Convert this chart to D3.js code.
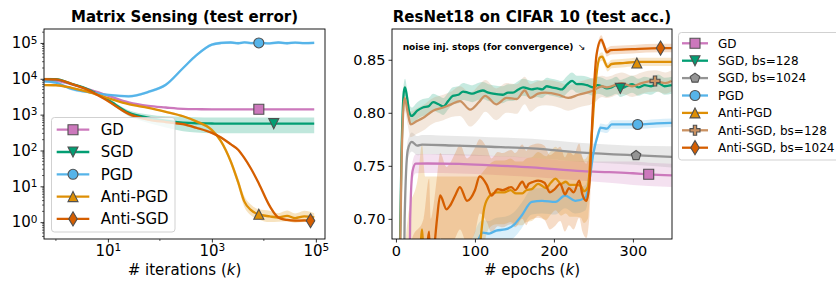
<!DOCTYPE html>
<html>
<head>
<meta charset="utf-8">
<script src="https://cdn.jsdelivr.net/npm/d3@7"></script>
<style>
  body { margin: 0; background: #fff; }
  svg text { font-family: "DejaVu Sans", sans-serif; fill: #000; }
</style>
</head>
<body>
<svg id="visualization" width="836" height="282"></svg>
<script>
// ---- left panel: matrix sensing, test error vs iterations (log-log) ----
var msNames = ["GD", "SGD", "PGD", "Anti-PGD", "Anti-SGD"];
var msIters = [0.6, 1, 2, 4, 10, 25, 60, 130, 280, 500, 1000, 1500, 2300, 3200, 4200, 5600, 8000, 13000, 19000, 28000, 40000, 60000, 93000];
var msGD = [9000, 8800, 7000, 5200, 3400, 2200, 1750, 1580, 1450, 1420, 1410, 1410, 1410, 1410, 1410, 1410, 1410, 1410, 1410, 1410, 1410, 1410, 1410];
var msSGD = [9800, 9700, 7200, 5200, 2600, 1150, 820, 680, 600, 575, 565, 560, 560, 560, 560, 560, 560, 560, 560, 560, 560, 560, 560];
var msPGD = [8500, 7800, 5200, 4300, 3550, 3250, 4300, 6800, 20000, 45000, 90000, 100000, 103000, 98000, 104000, 99000, 102000, 97000, 103000, 98000, 102000, 99000, 101000];
var msAntiPGD = [6700, 6600, 5600, 4400, 2900, 1950, 1550, 1200, 900, 650, 370, 180, 50, 13, 3.8, 2.2, 1.65, 1.45, 1.35, 1.5, 1.3, 1.45, 1.35];
var msAntiSGD = [9800, 9600, 7200, 5000, 2400, 1050, 730, 620, 540, 430, 310, 230, 150, 105, 62, 32, 12, 2.8, 1.35, 1.15, 1.1, 1.12, 1.08];
// band half widths in decades
var msBand = [0.012, null, 0.04, null, 0.035];
var msSgdBandLo = [0.01, 0.01, 0.02, 0.03, 0.05, 0.1, 0.15, 0.19, 0.24, 0.26, 0.27, 0.27, 0.27, 0.27, 0.27, 0.27, 0.27, 0.27, 0.27, 0.27, 0.27, 0.27, 0.27];
var msSgdBandHi = [0.01, 0.01, 0.02, 0.03, 0.04, 0.06, 0.09, 0.12, 0.16, 0.17, 0.17, 0.17, 0.17, 0.17, 0.17, 0.17, 0.17, 0.17, 0.17, 0.17, 0.17, 0.17, 0.17];
var msAntiPgdBand = [0.02, 0.02, 0.02, 0.02, 0.02, 0.02, 0.02, 0.03, 0.03, 0.04, 0.05, 0.06, 0.08, 0.12, 0.15, 0.15, 0.14, 0.16, 0.12, 0.15, 0.13, 0.16, 0.12];
var msMarkIters = [8000, 15500, 8000, 8000, 79000];
var msMarkVals = [1410, 560, 100000, 1.67, 1.1];
var msXTicks = [10, 1000, 100000];
var msYTicks = [1, 10, 100, 1000, 10000, 100000];

// ---- right panel: ResNet18 on CIFAR 10, test accuracy vs epochs ----
// each point: [epoch, accuracy, band half width]
var cfNames = ["GD", "SGD, bs=128", "SGD, bs=1024", "PGD", "Anti-PGD", "Anti-SGD, bs=128", "Anti-SGD, bs=1024"];
var cfGD = [[0,0.40,0.01],[15,0.50,0.01],[18,0.70,0.01],[21,0.745,0.009],[25,0.752,0.009],[40,0.7522,0.009],[80,0.7518,0.009],[120,0.7505,0.009],[172,0.7485,0.009],[236,0.745,0.009],[270,0.744,0.010],[300,0.743,0.011],[320,0.742,0.011],[349,0.741,0.011]];
var cfSGD128 = [[0,0.45,0.01],[4,0.62,0.01],[7,0.76,0.01],[10,0.82,0.008],[11.5,0.824,0.008],[14,0.815,0.008],[17,0.800,0.008],[20,0.797,0.008],[27,0.802,0.008],[34,0.805,0.008],[41,0.806,0.008],[47,0.810,0.008],[54,0.808,0.008],[60,0.806,0.008],[66,0.811,0.008],[72,0.816,0.008],[79,0.817,0.008],[85,0.820,0.008],[91,0.819,0.008],[97,0.818,0.008],[104,0.820,0.008],[110,0.821,0.008],[117,0.819,0.008],[123,0.818,0.008],[135,0.817,0.008],[142,0.819,0.008],[148,0.819,0.008],[155,0.822,0.008],[161,0.824,0.008],[172,0.822,0.008],[179,0.823,0.008],[185,0.822,0.008],[191,0.825,0.008],[197,0.824,0.008],[204,0.823,0.008],[210,0.822,0.008],[217,0.827,0.008],[223,0.830,0.008],[229,0.827,0.008],[235,0.827,0.008],[242,0.826,0.008],[250,0.824,0.008],[255,0.826,0.008],[261,0.825,0.008],[267,0.823,0.008],[273,0.824,0.008],[279,0.826,0.008],[284,0.823,0.008],[292,0.825,0.008],[299,0.827,0.008],[307,0.824,0.008],[315,0.826,0.008],[323,0.825,0.008],[332,0.828,0.008],[340,0.825,0.008],[349,0.826,0.008]];
var cfSGD1024 = [[0,0.40,0.01],[8,0.50,0.01],[11,0.70,0.01],[15,0.765,0.009],[20,0.7725,0.009],[27,0.769,0.009],[33,0.770,0.009],[77,0.769,0.009],[120,0.768,0.009],[172,0.7665,0.009],[236,0.7625,0.009],[300,0.760,0.009],[349,0.7585,0.010]];
var cfPGD = [[0,0.55,0.015],[50,0.60,0.015],[90,0.65,0.015],[104,0.68,0.015],[110,0.687,0.012],[118,0.686,0.012],[127,0.689,0.012],[138,0.690,0.012],[149,0.694,0.012],[159,0.703,0.012],[172,0.716,0.012],[185,0.717,0.012],[202,0.716,0.012],[214,0.722,0.012],[227,0.717,0.012],[240,0.720,0.012],[244,0.732,0.010],[250,0.762,0.006],[256,0.780,0.004],[259,0.786,0.004],[267,0.785,0.004],[273,0.789,0.004],[290,0.789,0.004],[306,0.789,0.004],[330,0.790,0.004],[349,0.7905,0.004]];
var cfAntiPGD = [[0,0.50,0.05],[15,0.58,0.12],[28,0.62,0.12],[33,0.690,0.08],[37,0.62,0.12],[60,0.62,0.12],[90,0.63,0.11],[104,0.66,0.08],[112,0.711,0.035],[119,0.722,0.03],[127,0.725,0.03],[137,0.725,0.03],[145,0.727,0.03],[152,0.724,0.03],[160,0.724,0.03],[165,0.727,0.03],[172,0.728,0.03],[180,0.733,0.03],[190,0.729,0.03],[196,0.734,0.03],[202,0.738,0.03],[209,0.733,0.03],[215,0.735,0.03],[220,0.732,0.03],[228,0.732,0.03],[234,0.731,0.03],[238,0.726,0.03],[243,0.730,0.03],[248,0.780,0.01],[253,0.830,0.005],[258,0.852,0.004],[261,0.853,0.004],[265,0.847,0.004],[268,0.843,0.004],[273,0.846,0.004],[290,0.847,0.004],[305,0.848,0.004],[349,0.848,0.004]];
var cfAntiSGD128 = [[0,0.45,0.01],[4,0.60,0.012],[7,0.75,0.012],[11,0.814,0.012],[15,0.800,0.012],[18.6,0.789,0.012],[26,0.792,0.012],[34,0.795,0.012],[47,0.802,0.012],[60,0.805,0.012],[70,0.808,0.012],[81,0.811,0.014],[94,0.803,0.016],[105,0.810,0.016],[113,0.816,0.015],[127,0.808,0.015],[140,0.814,0.014],[153,0.813,0.014],[163,0.821,0.013],[170,0.814,0.013],[180,0.818,0.012],[189,0.819,0.012],[206,0.817,0.012],[218,0.814,0.012],[231,0.817,0.012],[250,0.821,0.012],[261,0.825,0.010],[267,0.824,0.010],[286,0.828,0.010],[299,0.825,0.010],[311,0.828,0.010],[328,0.830,0.010],[341,0.828,0.010],[349,0.830,0.010]];
var cfAntiSGD1024 = [[0,0.50,0.05],[20,0.58,0.10],[35,0.62,0.08],[42,0.688,0.05],[44,0.64,0.06],[47,0.66,0.05],[52,0.70,0.04],[56,0.722,0.04],[64,0.709,0.04],[68,0.712,0.04],[75,0.722,0.04],[81,0.730,0.04],[90,0.717,0.04],[100,0.727,0.04],[106,0.740,0.035],[115,0.732,0.035],[121,0.722,0.035],[129,0.728,0.035],[135,0.727,0.035],[146,0.730,0.035],[151,0.727,0.035],[160,0.735,0.035],[165,0.729,0.035],[168,0.733,0.035],[174,0.735,0.035],[180,0.736,0.035],[188,0.734,0.035],[195,0.725,0.035],[201,0.728,0.035],[208,0.733,0.035],[214,0.723,0.035],[219,0.729,0.035],[225,0.725,0.035],[232,0.736,0.035],[236,0.723,0.035],[241,0.717,0.035],[245,0.733,0.030],[249,0.800,0.010],[254,0.855,0.005],[260,0.869,0.004],[264,0.862,0.004],[267,0.857,0.004],[272,0.859,0.004],[299,0.860,0.004],[335,0.861,0.004],[349,0.861,0.004]];
var cfMarkEpochs = [320, 284, 304, 306, 305, 328, 335];
var cfMarkVals = [0.742, 0.823, 0.7597, 0.789, 0.847, 0.830, 0.861];
var cfXTicks = [0, 100, 200, 300];
var cfYTicks = [0.70, 0.75, 0.80, 0.85];

var msColors = ["#cc78bc", "#029e73", "#56b4e9", "#de8f05", "#d55e00"],
    msShapes = ["square", "triDown", "circle", "triUp", "diamond"],
    cfColors = ["#cc78bc", "#029e73", "#949494", "#56b4e9", "#de8f05", "#ca9161", "#d55e00"],
    cfShapes = ["square", "triDown", "pentagon", "circle", "triUp", "plus", "diamond"];

var LEFT = {x0: 44, x1: 325, y0: 29, y1: 239},
    RIGHT = {x0: 392, x1: 672, y0: 29, y1: 239},
    LW = 2.3, MS = 10, EDGE = "#505050";

var vis = d3.select("#visualization");
var defs = vis.append("defs");

function addClip(id, b) {
  defs.append("clipPath").attr("id", id).append("rect")
    .attr("x", b.x0).attr("y", b.y0).attr("width", b.x1 - b.x0).attr("height", b.y1 - b.y0);
}
addClip("clipL", LEFT);
addClip("clipR", RIGHT);

// matplotlib-like marker glyphs, ms = marker size in px
function shapePath(type, ms) {
  var h = ms / 2, p = d3.path(), i, a;
  switch (type) {
    case "square": p.rect(-h, -h, ms, ms); break;
    case "circle": p.moveTo(h, 0); p.arc(0, 0, h, 0, 2 * Math.PI); break;
    case "triUp": p.moveTo(0, -h); p.lineTo(h, h); p.lineTo(-h, h); p.closePath(); break;
    case "triDown": p.moveTo(0, h); p.lineTo(h, -h); p.lineTo(-h, -h); p.closePath(); break;
    case "diamond":
      a = ms * 0.707;
      p.moveTo(0, -a); p.lineTo(0.6 * a, 0); p.lineTo(0, a); p.lineTo(-0.6 * a, 0); p.closePath();
      break;
    case "pentagon":
      for (i = 0; i < 5; i++) {
        a = -Math.PI / 2 + i * 2 * Math.PI / 5;
        if (i === 0) p.moveTo(h * Math.cos(a), h * Math.sin(a));
        else p.lineTo(h * Math.cos(a), h * Math.sin(a));
      }
      p.closePath();
      break;
    case "plus":
      var u = ms / 6;
      var pts = [[-1,-3],[1,-3],[1,-1],[3,-1],[3,1],[1,1],[1,3],[-1,3],[-1,1],[-3,1],[-3,-1],[-1,-1]];
      pts.forEach(function(q, j) { if (j === 0) p.moveTo(q[0] * u, q[1] * u); else p.lineTo(q[0] * u, q[1] * u); });
      p.closePath();
      break;
  }
  return p.toString();
}

function marker(g, type, color, x, y, ms) {
  g.append("path")
    .attr("d", shapePath(type, ms))
    .attr("transform", "translate(" + x + "," + y + ")")
    .style("fill", color)
    .style("stroke", EDGE)
    .style("stroke-width", 1.1);
}

function styleAxis(g, size) {
  g.select(".domain").remove();
  g.selectAll(".tick line").style("stroke", "#000").style("stroke-width", 0.8);
  g.selectAll("text").style("font-size", size + "px").style("font-family", "DejaVu Sans").style("fill", "#000");
}

function powLabel(text) {
  text.each(function(d) {
    var t = d3.select(this).text(null);
    t.append("tspan").text("10");
    t.append("tspan").attr("dy", "-0.45em").style("font-size", "10.5px").text(Math.round(Math.log10(d)));
  });
}

// =============== left panel ===============
var msX = d3.scaleLog().domain([0.59, 1.5e5]).range([LEFT.x0, LEFT.x1]),
    msY = d3.scaleLog().domain([0.339, 2.45e5]).range([LEFT.y1, LEFT.y0]);

var msVals = [msGD, msSGD, msPGD, msAntiPGD, msAntiSGD];
var msLo = [
  function() { return msBand[0]; },
  function(j) { return msSgdBandLo[j]; },
  function() { return msBand[2]; },
  function(j) { return msAntiPgdBand[j]; },
  function() { return msBand[4]; }
];
var msHi = [
  function() { return msBand[0]; },
  function(j) { return msSgdBandHi[j]; },
  function() { return msBand[2]; },
  function(j) { return msAntiPgdBand[j]; },
  function() { return msBand[4]; }
];

var plotL = vis.append("g").attr("clip-path", "url(#clipL)");
msVals.forEach(function(vals, i) {
  var area = d3.area().curve(d3.curveMonotoneX)
    .x(function(d, j) { return msX(msIters[j]); })
    .y0(function(d, j) { return msY(d / Math.pow(10, msLo[i](j))); })
    .y1(function(d, j) { return msY(d * Math.pow(10, msHi[i](j))); });
  plotL.append("path").datum(vals).attr("d", area)
    .style("fill", msColors[i]).style("opacity", 0.25).style("stroke", "none");
});
msVals.forEach(function(vals, i) {
  var line = d3.line().curve(d3.curveMonotoneX)
    .x(function(d, j) { return msX(msIters[j]); })
    .y(function(d) { return msY(d); });
  plotL.append("path").datum(vals).attr("d", line)
    .style("fill", "none").style("stroke", msColors[i]).style("stroke-width", LW);
});
msVals.forEach(function(vals, i) {
  marker(plotL, msShapes[i], msColors[i], msX(msMarkIters[i]), msY(msMarkVals[i]), MS);
});

var msXAxis = vis.append("g")
  .attr("transform", "translate(0," + LEFT.y1 + ")")
  .call(d3.axisBottom(msX).tickValues(msXTicks).tickSize(3.5).tickSizeOuter(0));
styleAxis(msXAxis, 15);
msXAxis.selectAll("text").call(powLabel);

var msYAxis = vis.append("g")
  .attr("transform", "translate(" + LEFT.x0 + ",0)")
  .call(d3.axisLeft(msY).tickValues(msYTicks).tickSize(3.5).tickSizeOuter(0));
styleAxis(msYAxis, 15);
msYAxis.selectAll("text").call(powLabel);

// minor ticks
var msYMinor = [];
msYTicks.concat([0.1]).forEach(function(dec) {
  for (var k = 2; k < 10; k++) {
    var v = dec * k;
    if (v > msY.domain()[0] && v < msY.domain()[1]) msYMinor.push(v);
  }
});
vis.append("g").selectAll("line").data(msYMinor).enter().append("line")
  .attr("x1", LEFT.x0 - 2).attr("x2", LEFT.x0)
  .attr("y1", function(d) { return msY(d); }).attr("y2", function(d) { return msY(d); })
  .style("stroke", "#000").style("stroke-width", 0.6);
vis.append("g").selectAll("line").data([1, 100, 10000]).enter().append("line")
  .attr("x1", function(d) { return msX(d); }).attr("x2", function(d) { return msX(d); })
  .attr("y1", LEFT.y1).attr("y2", LEFT.y1 + 2)
  .style("stroke", "#000").style("stroke-width", 0.6);

vis.append("rect")
  .attr("x", LEFT.x0).attr("y", LEFT.y0)
  .attr("width", LEFT.x1 - LEFT.x0).attr("height", LEFT.y1 - LEFT.y0)
  .style("fill", "none").style("stroke", "#000").style("stroke-width", 0.9);

vis.append("text")
  .attr("x", (LEFT.x0 + LEFT.x1) / 2).attr("y", 22)
  .style("text-anchor", "middle").style("font-weight", "bold").style("font-size", "15px")
  .text("Matrix Sensing (test error)");

var msLabel = vis.append("text")
  .attr("x", (LEFT.x0 + LEFT.x1) / 2).attr("y", 275)
  .style("text-anchor", "middle").style("font-size", "15px");
msLabel.append("tspan").text("# iterations (");
msLabel.append("tspan").style("font-style", "italic").text("k");
msLabel.append("tspan").text(")");

// left legend
var legL = vis.append("g");
legL.append("rect")
  .attr("x", 51.5).attr("y", 117.5).attr("width", 123.5).attr("height", 114.5).attr("rx", 3)
  .style("fill", "#fff").style("fill-opacity", 0.8).style("stroke", "#cccccc").style("stroke-width", 0.9);
msNames.forEach(function(name, i) {
  var yy = 129.7 + i * 22.3;
  legL.append("line")
    .attr("x1", 56.7).attr("x2", 89.3).attr("y1", yy).attr("y2", yy)
    .style("stroke", msColors[i]).style("stroke-width", LW);
  marker(legL, msShapes[i], msColors[i], 73, yy, MS);
  legL.append("text")
    .attr("x", 100.7).attr("y", yy).attr("dy", "0.36em")
    .style("font-size", "15px").text(name);
});

// =============== right panel ===============
var cfX = d3.scaleLinear().domain([-5, 349.5]).range([RIGHT.x0, RIGHT.x1]),
    cfY = d3.scaleLinear().domain([0.681, 0.879]).range([RIGHT.y1, RIGHT.y0]);

var cfSeries = [cfGD, cfSGD128, cfSGD1024, cfPGD, cfAntiPGD, cfAntiSGD128, cfAntiSGD1024];

var plotR = vis.append("g").attr("clip-path", "url(#clipR)");
var cfArea = d3.area().curve(d3.curveMonotoneX)
  .x(function(d) { return cfX(d[0]); })
  .y0(function(d) { return cfY(d[1] - d[2]); })
  .y1(function(d) { return cfY(d[1] + d[2]); });
var cfLine = d3.line().curve(d3.curveMonotoneX)
  .x(function(d) { return cfX(d[0]); })
  .y(function(d) { return cfY(d[1]); });

cfSeries.forEach(function(pts, i) {
  plotR.append("path").datum(pts).attr("d", cfArea)
    .style("fill", cfColors[i]).style("opacity", 0.22).style("stroke", "none");
});
cfSeries.forEach(function(pts, i) {
  plotR.append("path").datum(pts).attr("d", cfLine)
    .style("fill", "none").style("stroke", cfColors[i]).style("stroke-width", LW);
});
cfSeries.forEach(function(pts, i) {
  marker(plotR, cfShapes[i], cfColors[i], cfX(cfMarkEpochs[i]), cfY(cfMarkVals[i]), MS);
});

var cfXAxis = vis.append("g")
  .attr("transform", "translate(0," + RIGHT.y1 + ")")
  .call(d3.axisBottom(cfX).tickValues(cfXTicks).tickSize(3.5).tickSizeOuter(0));
styleAxis(cfXAxis, 14.5);

var cfYAxis = vis.append("g")
  .attr("transform", "translate(" + RIGHT.x0 + ",0)")
  .call(d3.axisLeft(cfY).tickValues(cfYTicks).tickSize(3.5).tickSizeOuter(0).tickFormat(d3.format(".2f")));
styleAxis(cfYAxis, 14.5);

vis.append("rect")
  .attr("x", RIGHT.x0).attr("y", RIGHT.y0)
  .attr("width", RIGHT.x1 - RIGHT.x0).attr("height", RIGHT.y1 - RIGHT.y0)
  .style("fill", "none").style("stroke", "#000").style("stroke-width", 0.9);

vis.append("text")
  .attr("x", 532).attr("y", 22)
  .style("text-anchor", "middle").style("font-weight", "bold").style("font-size", "15px")
  .text("ResNet18 on CIFAR 10 (test acc.)");

var cfLabel = vis.append("text")
  .attr("x", 532).attr("y", 275)
  .style("text-anchor", "middle").style("font-size", "15px");
cfLabel.append("tspan").text("# epochs (");
cfLabel.append("tspan").style("font-style", "italic").text("k");
cfLabel.append("tspan").text(")");

vis.append("text")
  .attr("x", 402.7).attr("y", 49.7)
  .style("font-weight", "bold").style("font-size", "9px")
  .text("noise inj. stops (for convergence)");
vis.append("text")
  .attr("x", 578).attr("y", 49.7)
  .style("font-size", "9px")
  .text("\u2198");

// right legend (runs off the right edge like the original)
var legR = vis.append("g");
legR.append("rect")
  .attr("x", 678.5).attr("y", 32.5).attr("width", 170).attr("height", 127.5).attr("rx", 3)
  .style("fill", "#fff").style("fill-opacity", 0.8).style("stroke", "#cccccc").style("stroke-width", 0.9);
cfNames.forEach(function(name, i) {
  var yy = 43.3 + i * 17.4;
  legR.append("line")
    .attr("x1", 682).attr("x2", 708).attr("y1", yy).attr("y2", yy)
    .style("stroke", cfColors[i]).style("stroke-width", LW);
  marker(legR, cfShapes[i], cfColors[i], 695, yy, MS);
  legR.append("text")
    .attr("x", 718).attr("y", yy).attr("dy", "0.36em")
    .style("font-size", "12px").text(name);
});
</script>
</body>
</html>
